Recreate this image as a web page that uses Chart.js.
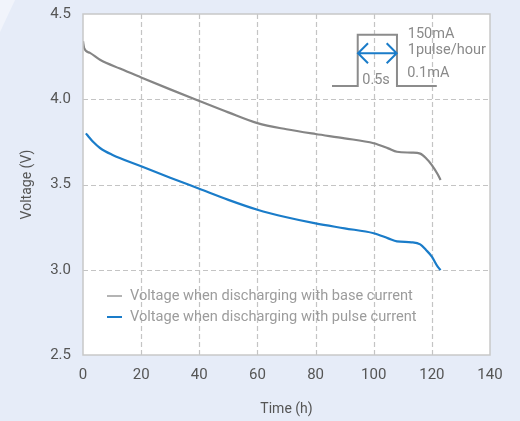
<!DOCTYPE html>
<html>
<head>
<meta charset="utf-8">
<script src="https://cdn.jsdelivr.net/npm/chart.js@4.4.0/dist/chart.umd.min.js"></script>
<style>
  html, body { margin: 0; padding: 0; background: #e6ecf8; }
  #wrap { position: relative; width: 520px; height: 421px; }
</style>
</head>
<body>
<div id="wrap"><canvas id="c" width="520" height="421"></canvas></div>
<script>
// ---- data ----
const baseTimes = [0, 0.4, 2.4, 5.85, 12.7, 20, 30, 40, 50, 60, 70, 80, 90, 100, 105, 108, 113, 116, 118, 120, 122, 123];
const baseVolts = [4.34, 4.30, 4.272, 4.232, 4.18, 4.128, 4.058, 3.99, 3.923, 3.86, 3.824, 3.796, 3.771, 3.742, 3.712, 3.692, 3.687, 3.681, 3.654, 3.614, 3.56, 3.526];
const pulseTimes = [1, 2.4, 3.55, 5.85, 10, 20, 30, 40, 50, 60, 70, 80, 90, 100, 105, 108, 113, 116, 118, 120, 122, 123];
const pulseVolts = [3.80, 3.771, 3.749, 3.714, 3.675, 3.607, 3.54, 3.475, 3.41, 3.352, 3.308, 3.272, 3.243, 3.214, 3.184, 3.166, 3.161, 3.149, 3.116, 3.077, 3.018, 2.998];
const seriesLabels = ['Voltage when discharging with base current', 'Voltage when discharging with pulse current'];
const xTicks = [0, 20, 40, 60, 80, 100, 120, 140];
const yTicks = [2.5, 3.0, 3.5, 4.0, 4.5];
const insetLabels = ['150mA', '1pulse/hour', '0.1mA', '0.5s'];

const FONT = 'Roboto, "DejaVu Sans", sans-serif';
const GREY = '#858585';
const BLUE = '#1a7cc9';

function toPts(xs, ys) { return xs.map((x, i) => ({ x: x, y: ys[i] })); }

const bgPlugin = {
  id: 'bg',
  beforeDraw(chart) {
    const { ctx, chartArea: a } = chart;
    ctx.save();
    ctx.fillStyle = '#e6ecf8';
    ctx.fillRect(0, 0, chart.width, chart.height);
    ctx.fillStyle = '#f1f4fb';
    ctx.beginPath();
    ctx.moveTo(0, 0); ctx.lineTo(15, 0); ctx.lineTo(0, 32); ctx.closePath();
    ctx.fill();
    ctx.fillStyle = '#ffffff';
    ctx.fillRect(a.left, a.top, a.right - a.left, a.bottom - a.top);
    ctx.restore();
  },
  beforeDatasetsDraw(chart) {
    const { ctx, chartArea: a, scales: { x, y } } = chart;
    ctx.save();
    ctx.strokeStyle = '#c4c4c4';
    ctx.lineWidth = 1.2;
    ctx.setLineDash([5, 3]);
    x.ticks.forEach(t => {
      if (t.value <= x.min || t.value >= x.max) return;
      const p = Math.round(x.getPixelForValue(t.value)) + 0.5;
      ctx.beginPath(); ctx.moveTo(p, a.top); ctx.lineTo(p, a.bottom); ctx.stroke();
    });
    y.ticks.forEach(t => {
      if (t.value <= y.min || t.value >= y.max) return;
      const p = Math.round(y.getPixelForValue(t.value)) + 0.5;
      ctx.beginPath(); ctx.moveTo(a.left, p); ctx.lineTo(a.right, p); ctx.stroke();
    });
    ctx.restore();
  },
  afterDatasetsDraw(chart) {
    const { ctx, chartArea: a, scales: { x, y } } = chart;
    ctx.save();
    // border box
    ctx.strokeStyle = '#c8c8c8';
    ctx.lineWidth = 1.5;
    ctx.strokeRect(a.left, a.top, a.right - a.left, a.bottom - a.top);

    // legend
    ctx.font = '14.6px ' + FONT;
    ctx.textBaseline = 'middle';
    ctx.textAlign = 'left';
    const legColors = ['#b4b4b4', BLUE];
    const legY = [a.bottom - 59, a.bottom - 38];
    seriesLabels.forEach((t, i) => {
      ctx.strokeStyle = legColors[i];
      ctx.lineWidth = 2;
      ctx.beginPath();
      ctx.moveTo(a.left + 24, legY[i]); ctx.lineTo(a.left + 39, legY[i]);
      ctx.stroke();
      ctx.fillStyle = '#9c9c9c';
      ctx.fillText(t, a.left + 47, legY[i] + 0.5);
    });

    // pulse inset
    const px = v => x.getPixelForValue(v);
    const py = v => y.getPixelForValue(v);
    const yBase = py(4.078), yTop = py(4.379);
    ctx.strokeStyle = '#8c8c8c';
    ctx.lineWidth = 2;
    ctx.beginPath();
    ctx.moveTo(px(85.65), yBase);
    ctx.lineTo(px(94.5), yBase);
    ctx.lineTo(px(94.5), yTop);
    ctx.lineTo(px(108.0), yTop);
    ctx.lineTo(px(108.0), yBase);
    ctx.lineTo(px(121.7), yBase);
    ctx.stroke();
    // double arrow
    const ay = py(4.27), ax1 = px(94.6), ax2 = px(107.9);
    ctx.strokeStyle = BLUE;
    ctx.lineWidth = 2;
    ctx.beginPath();
    ctx.moveTo(ax1, ay); ctx.lineTo(ax2, ay);
    ctx.moveTo(ax1 + 10, ay - 10); ctx.lineTo(ax1, ay); ctx.lineTo(ax1 + 10, ay + 10);
    ctx.moveTo(ax2 - 10, ay - 10); ctx.lineTo(ax2, ay); ctx.lineTo(ax2 - 10, ay + 10);
    ctx.stroke();
    // inset text
    ctx.fillStyle = '#8a8a8a';
    ctx.font = '14.5px ' + FONT;
    ctx.textAlign = 'left';
    ctx.fillText(insetLabels[0], px(111.7), py(4.383));
    ctx.fillText(insetLabels[1], px(111.7), py(4.285));
    ctx.fillText(insetLabels[2], px(111.5), py(4.154));
    ctx.textAlign = 'center';
    ctx.fillText(insetLabels[3], px(100.8), py(4.113));
    ctx.restore();
  }
};

new Chart(document.getElementById('c'), {
  type: 'line',
  data: {
    datasets: [
      { label: seriesLabels[0], data: toPts(baseTimes, baseVolts), borderColor: GREY, borderWidth: 2.2,
        pointRadius: 0, cubicInterpolationMode: 'monotone', fill: false },
      { label: seriesLabels[1], data: toPts(pulseTimes, pulseVolts), borderColor: BLUE, borderWidth: 2.2,
        pointRadius: 0, cubicInterpolationMode: 'monotone', fill: false }
    ]
  },
  options: {
    responsive: false,
    animation: false,
    devicePixelRatio: 1,
    layout: { padding: { left: 0, right: 30, top: 14, bottom: 0 } },
    plugins: { legend: { display: false }, tooltip: { enabled: false } },
    scales: {
      x: {
        type: 'linear', min: 0, max: 140,
        afterBuildTicks(s) { s.ticks = xTicks.map(v => ({ value: v })); },
        afterFit(s) { s.height = 66; s.paddingLeft = 0; s.paddingRight = 0; },
        grid: { display: false, drawTicks: false },
        border: { display: false },
        ticks: { padding: 11, color: '#555', font: { family: FONT, size: 15 }, maxRotation: 0 },
        title: { display: true, text: 'Time (h)', color: '#555', font: { family: FONT, size: 14 }, padding: { top: 0, bottom: 3 } }
      },
      y: {
        type: 'linear', min: 2.5, max: 4.5,
        afterBuildTicks(s) { s.ticks = yTicks.map(v => ({ value: v })); },
        afterFit(s) { s.width = 83; s.paddingTop = 0; s.paddingBottom = 0; },
        grid: { display: false, drawTicks: false },
        border: { display: false },
        ticks: { padding: 12, color: '#555', font: { family: FONT, size: 15 }, callback: v => Number(v).toFixed(1) },
        title: { display: true, text: 'Voltage (V)', color: '#555', font: { family: FONT, size: 14 }, padding: { top: 19, bottom: 0 } }
      }
    }
  },
  plugins: [bgPlugin]
});
</script>
</body>
</html>
